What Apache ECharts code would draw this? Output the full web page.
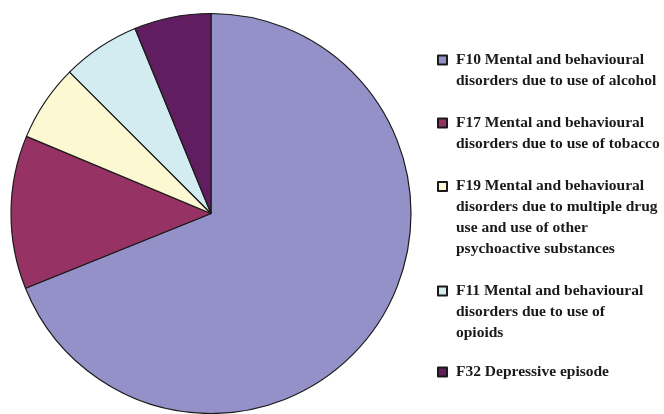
<!DOCTYPE html>
<html>
<head>
<meta charset="utf-8">
<title>Diagnoses pie</title>
<script src="https://cdn.jsdelivr.net/npm/echarts@6/dist/echarts.min.js"></script>
<style>
    html, body { margin: 0; padding: 0; background: #fff; }
    #chart { width: 664px; height: 414px; }
</style>
</head>
<body>
<div id="chart"></div>
<script>
    // categories (legend text, lines split as in the original)
    var categories = [
        'F10 Mental and behavioural\ndisorders due to use of alcohol',
        'F17 Mental and behavioural\ndisorders due to use of tobacco',
        'F19 Mental and behavioural\ndisorders due to multiple drug\nuse and use of other\npsychoactive substances',
        'F11 Mental and behavioural\ndisorders due to use of\nopioids',
        'F32 Depressive episode'
    ]
    // share of each diagnosis, %
    var values = [68.9, 12.4, 6.2, 6.3, 6.2]
    var colors = ['#9490c8', '#963264', '#fcf9d2', '#d2ecf2', '#601e60']

    // y of the first text line of each legend entry
    var legendLineY = [59, 122, 185.5, 290, 371]
    var lineH = 20.8
    var box = 9

    var pieData = []
    categories.forEach(function (name, i) {
        pieData.push({ name: name, value: values[i], itemStyle: { color: colors[i] } })
    })

    // one legend per entry; the icon is as tall as the text block,
    // with the square drawn at the first line (empty points keep the height)
    var legends = []
    categories.forEach(function (name, i) {
        var n = name.split('\n').length
        var h = n * lineH
        var off = (lineH - box) / 2
        var icon = 'path://M0,0L0,0M0,' + off + 'h' + box + 'v' + box + 'h-' + box + 'zM0,' + h + 'L0,' + h
        legends.push({
            orient: 'vertical',
            left: 437,
            top: legendLineY[i] - lineH / 2,
            padding: 0,
            itemWidth: box,
            itemHeight: h,
            selectedMode: false,
            data: [{ name: name, icon: icon }],
            textStyle: {
                fontFamily: 'Liberation Serif',
                fontWeight: 'bold',
                fontSize: 15.5,
                lineHeight: lineH,
                color: '#1a1a1a',
                padding: [0, 0, 0, 4]
            }
        })
    })

    var myChart = echarts.init(document.getElementById('chart'))
    myChart.setOption({
        animation: false,
        legend: legends,
        series: [
            {
                type: 'pie',
                center: [211, 213.5],
                radius: 200,
                startAngle: 90,
                clockwise: true,
                label: { show: false },
                labelLine: { show: false },
                itemStyle: {
                    borderColor: '#1a1a1a',
                    borderWidth: 1.2
                },
                emphasis: { scale: false },
                data: pieData
            }
        ]
    })
</script>
</body>
</html>
